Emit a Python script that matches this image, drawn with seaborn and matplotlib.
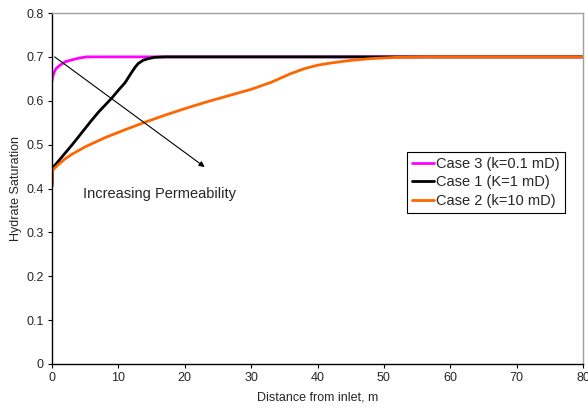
import matplotlib
matplotlib.use("Agg")
import matplotlib.pyplot as plt
import seaborn as sns
import pandas as pd

# Data
case3_x = [0, 0.1, 0.3, 0.6, 1.2, 2, 3.2, 4, 5.2, 7, 10, 20, 40, 60, 80]
case3_y = [0.645, 0.655, 0.664, 0.673, 0.681, 0.689, 0.694, 0.697, 0.7, 0.7, 0.7, 0.7, 0.7, 0.7, 0.7]

case1_x = [0, 0.1, 1, 2, 3, 4, 5, 6, 7, 8, 9, 10, 11, 11.8, 12.5, 13, 13.7, 14.5, 15.5, 17, 20, 40, 60, 80]
case1_y = [0.405, 0.447, 0.463, 0.481, 0.499, 0.518, 0.537, 0.556, 0.574, 0.59, 0.606, 0.624, 0.641,
           0.66, 0.676, 0.685, 0.692, 0.696, 0.699, 0.7, 0.7, 0.7, 0.7, 0.7]

case2_x = [0, 0.1, 1, 2, 3, 5, 8, 11, 14, 17, 20, 23, 26, 30, 33, 36, 38, 40, 42, 45, 48, 52, 56, 60, 80]
case2_y = [0.41, 0.442, 0.455, 0.468, 0.478, 0.495, 0.516, 0.534, 0.551, 0.567, 0.582, 0.596, 0.609,
           0.626, 0.642, 0.662, 0.673, 0.681, 0.686, 0.692, 0.696, 0.699, 0.7, 0.7, 0.7]

labels = ["Case 3 (k=0.1 mD)", "Case 1 (K=1 mD)", "Case 2 (k=10 mD)"]
colors = ["#FF00FF", "#000000", "#FF6600"]

df = pd.concat([
    pd.DataFrame({"x": case3_x, "y": case3_y, "case": labels[0]}),
    pd.DataFrame({"x": case1_x, "y": case1_y, "case": labels[1]}),
    pd.DataFrame({"x": case2_x, "y": case2_y, "case": labels[2]}),
], ignore_index=True)

sns.set_theme(style="white")
plt.rcParams["font.family"] = ["Liberation Sans", "DejaVu Sans"]

fig = plt.figure(figsize=(5.88, 4.08), dpi=100)
ax = fig.add_axes([52 / 588, 1 - 364 / 408, 531 / 588, 351 / 408])

sns.lineplot(data=df, x="x", y="y", hue="case", hue_order=labels,
             palette=dict(zip(labels, colors)), sort=False, estimator=None,
             linewidth=2.0, ax=ax)

ax.set_xlim(0, 80)
ax.set_ylim(0, 0.8)
ax.set_xticks(range(0, 81, 10))
ax.set_yticks([i / 10 for i in range(9)])
ax.set_yticklabels(["0"] + [f"{i/10:.1f}" for i in range(1, 9)])
ax.tick_params(axis="both", labelsize=9, direction="out", length=3, width=0.8,
               color="black", left=True, bottom=True, pad=3)
ax.set_xlabel("Distance from inlet, m", fontsize=9, labelpad=5)
ax.set_ylabel("Hydrate Saturation", fontsize=9, labelpad=3)

for s in ["left", "bottom"]:
    ax.spines[s].set_color("black")
    ax.spines[s].set_linewidth(1.0)
for s in ["top", "right"]:
    ax.spines[s].set_color("#A0A0A0")
    ax.spines[s].set_linewidth(1.0)

ax.annotate("", xy=(23, 0.449), xytext=(0.4, 0.7),
            arrowprops=dict(arrowstyle="-|>", color="black", lw=0.8,
                            mutation_scale=8, shrinkA=0, shrinkB=0))
ax.text(4.7, 0.387, "Increasing Permeability", fontsize=10.5, va="center", ha="left")

leg = ax.legend(loc="upper left", bbox_to_anchor=(0.669, 0.604), borderaxespad=0,
                fontsize=10.5, frameon=True, fancybox=False, framealpha=1,
                edgecolor="black", handlelength=1.5, handletextpad=0.15,
                labelspacing=0.3, borderpad=0.35, title=None)
leg.get_frame().set_linewidth(0.8)

fig.savefig("out.png", dpi=100)
